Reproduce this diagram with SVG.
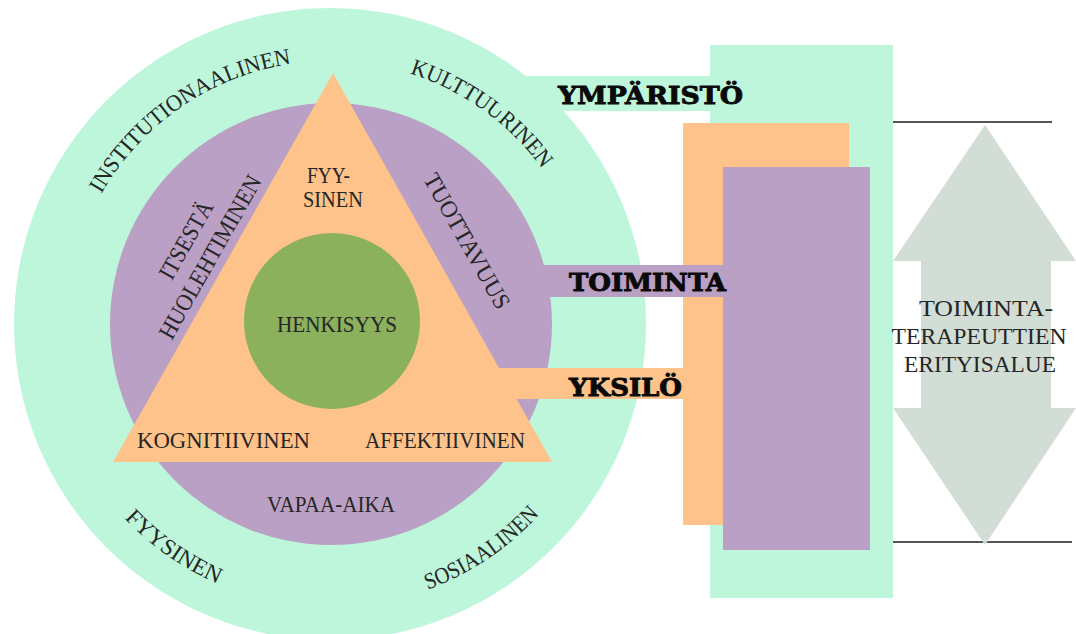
<svg xmlns="http://www.w3.org/2000/svg" width="1076" height="634" viewBox="0 0 1076 634">
<style>
.lbl{font-family:"Liberation Serif","DejaVu Serif",serif;font-size:24px;fill:#262626;}
.ring{font-family:"Liberation Serif","DejaVu Serif",serif;font-size:23px;fill:#262626;}
.bold{font-family:"DejaVu Serif","Liberation Serif",serif;font-weight:bold;font-size:25px;fill:#0a0a0a;stroke:#0a0a0a;stroke-width:0.9px;}
.mint{fill:#bdf6da;}
.lilac{fill:#bba0c5;}
.peach{fill:#fec38a;}
.rule{stroke:#555;stroke-width:2;}
</style>
<defs>
<path id="arcTop" d="M 67,324 A 263 263 0 0 1 593,324" fill="none"/>
<path id="arcBot" d="M 47,324 A 283 283 0 0 0 613,324" fill="none"/>
</defs>
<rect width="1076" height="634" fill="#ffffff"/>
<g id="panel-ymparisto"><rect class="mint" x="710" y="45" width="183" height="553"/></g>
<g id="node-ymparisto">
<circle class="mint" cx="330" cy="324" r="316"/>
<text class="ring"><textPath href="#arcTop" startOffset="136" textLength="238" lengthAdjust="spacingAndGlyphs">INSTITUTIONAALINEN</textPath></text>
<text class="ring"><textPath href="#arcTop" startOffset="494" textLength="166" lengthAdjust="spacingAndGlyphs">KULTTUURINEN</textPath></text>
<text class="ring"><textPath href="#arcBot" startOffset="214" textLength="115" lengthAdjust="spacingAndGlyphs">FYYSINEN</textPath></text>
<text class="ring"><textPath href="#arcBot" startOffset="544" textLength="136" lengthAdjust="spacingAndGlyphs">SOSIAALINEN</textPath></text>
</g>
<g id="panel-yksilo"><rect class="peach" x="683" y="123" width="166" height="402"/></g>
<g id="panel-toiminta"><rect class="lilac" x="723" y="167" width="147" height="383"/></g>
<g id="node-toiminta">
<circle class="lilac" cx="331" cy="324" r="221"/>
<text class="lbl" text-anchor="middle" y="8" textLength="86" lengthAdjust="spacingAndGlyphs" transform="translate(186,240) rotate(-60.5)">ITSESTÄ</text>
<text class="lbl" text-anchor="middle" y="8" textLength="184" lengthAdjust="spacingAndGlyphs" transform="translate(210,257) rotate(-60.5)">HUOLEHTIMINEN</text>
<text class="lbl" text-anchor="middle" y="8" textLength="152" lengthAdjust="spacingAndGlyphs" transform="translate(467,241) rotate(60.6)">TUOTTAVUUS</text>
<text class="lbl" x="267" y="512" textLength="128" lengthAdjust="spacingAndGlyphs">VAPAA-AIKA</text>
</g>
<g id="connectors">
<rect class="mint" x="500" y="76" width="212" height="35"/>
<rect class="lilac" x="530" y="265" width="193" height="32"/>
<rect class="peach" x="470" y="368" width="220" height="31"/>
<text class="bold" x="558" y="104" textLength="185" lengthAdjust="spacingAndGlyphs">YMPÄRISTÖ</text>
<text class="bold" x="569" y="291" textLength="157" lengthAdjust="spacingAndGlyphs">TOIMINTA</text>
<text class="bold" x="569" y="396" textLength="113" lengthAdjust="spacingAndGlyphs">YKSILÖ</text>
</g>
<g id="node-yksilo">
<polygon class="peach" points="333,73 113,462 552,462"/>
<text class="lbl" x="307" y="183" textLength="43" lengthAdjust="spacingAndGlyphs">FYY-</text>
<text class="lbl" x="303" y="207" textLength="60" lengthAdjust="spacingAndGlyphs">SINEN</text>
<text class="lbl" x="137" y="448" textLength="173" lengthAdjust="spacingAndGlyphs">KOGNITIIVINEN</text>
<text class="lbl" x="365" y="448" textLength="160" lengthAdjust="spacingAndGlyphs">AFFEKTIIVINEN</text>
</g>
<g id="node-henkisyys">
<circle cx="332" cy="321" r="88" fill="#8bb15c"/>
<text class="lbl" x="277" y="332" textLength="120" lengthAdjust="spacingAndGlyphs">HENKISYYS</text>
</g>
<g id="arrow-erityisalue">
<line class="rule" x1="893" y1="122" x2="1052" y2="122"/>
<line class="rule" x1="893" y1="542" x2="1072" y2="542"/>
<polygon fill="#d2ddd6" points="985,125 1076,261 1051,261 1051,408 1076,408 985,545 893,408 921,408 921,261 893,261"/>
<text class="lbl" x="986" y="316" text-anchor="middle" textLength="134" lengthAdjust="spacingAndGlyphs">TOIMINTA-</text>
<text class="lbl" x="979" y="344" text-anchor="middle" textLength="175" lengthAdjust="spacingAndGlyphs">TERAPEUTTIEN</text>
<text class="lbl" x="980" y="372" text-anchor="middle" textLength="152" lengthAdjust="spacingAndGlyphs">ERITYISALUE</text>
</g>
</svg>
